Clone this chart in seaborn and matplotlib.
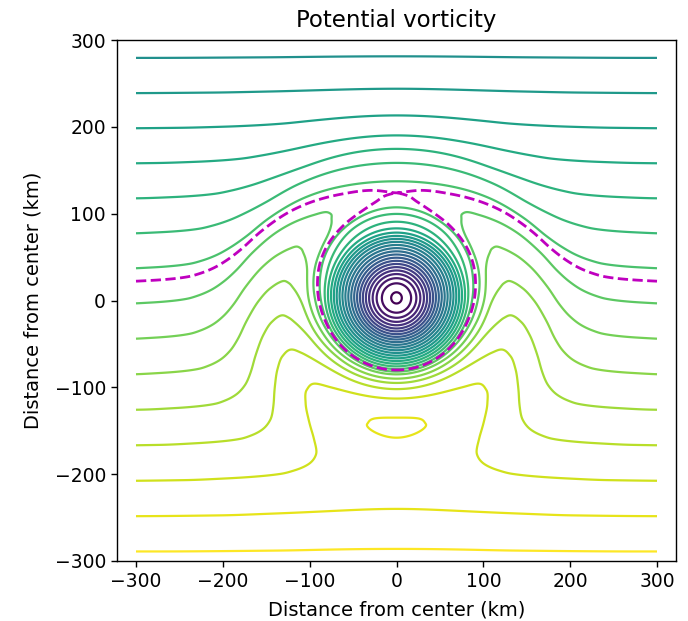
import numpy as np
import matplotlib
matplotlib.use("Agg")
import matplotlib.pyplot as plt
from matplotlib.colors import Normalize
import seaborn as sns

# ---- data ----
# radial PV anomaly of the vortex core (shared by all directions)
core_radius_km = [0, 10, 20, 30, 35, 50, 65, 80]
core_anomaly = [854, 837, 786, 700, 646, 465, 284, 101.5]
# outer profile read along the upper half (north of the vortex)
north_radius_km = [85, 90, 96, 101, 105, 109, 115, 120, 125, 130, 137.3, 148, 158.5,
                   174.6, 188, 200, 213, 228, 243, 262, 281, 320, 400, 700]
north_anomaly = [60, 30, 0, -32, -60, -78, -91, -98, -104, -106, -101.5, -93, -82,
                 -57.6, -35, -23.5, -15, -9, -5.2, -3, -1.8, -0.6, 0, 0]
# outer profile read along the lower half (south of the vortex)
south_radius_km = [85, 90, 95, 102, 108, 113, 120, 125, 135, 146, 158, 170, 185,
                   200, 215, 228, 240, 262, 285, 320, 400, 700]
south_anomaly = [40, 4, -32, -65, -85, -95, -104, -108, -113.5, -106.5, -90.4, -72, -50,
                 -31, -19, -12.5, -8.4, -5, -3, -1, 0, 0]
level_start = -289.0
level_step = 40.6
n_levels = 29
tick_values = [-300, -200, -100, 0, 100, 200, 300]
domain_km = [-300, 300]


def pchip(xk, yk, xq):
    xk = np.asarray(xk, float)
    yk = np.asarray(yk, float)
    h = np.diff(xk)
    d = np.diff(yk) / h
    n = len(xk)
    m = np.zeros(n)
    for i in range(1, n - 1):
        if d[i - 1] * d[i] > 0:
            w1 = 2 * h[i] + h[i - 1]
            w2 = h[i] + 2 * h[i - 1]
            m[i] = (w1 + w2) / (w1 / d[i - 1] + w2 / d[i])
    m[0] = 0.0
    m[-1] = d[-1]
    i = np.clip(np.searchsorted(xk, xq) - 1, 0, n - 2)
    t = (xq - xk[i]) / h[i]
    h00 = 2 * t**3 - 3 * t**2 + 1
    h10 = t**3 - 2 * t**2 + t
    h01 = -2 * t**3 + 3 * t**2
    h11 = t**3 - t**2
    return h00 * yk[i] + h10 * h[i] * m[i] + h01 * yk[i + 1] + h11 * h[i] * m[i + 1]


sns.set_style("ticks")
plt.rcParams["font.family"] = ["DejaVu Sans"]
plt.rcParams.update({"text.color": "black", "axes.labelcolor": "black",
                     "xtick.color": "black", "ytick.color": "black"})

# ---- build the field ----
x = np.linspace(domain_km[0], domain_km[1], 601)
y = np.linspace(domain_km[0], domain_km[1], 601)
X, Y = np.meshgrid(x, y)
R = np.hypot(X, Y)

rf = np.arange(0, 700.0, 0.25)
qn = pchip(core_radius_km + north_radius_km, core_anomaly + north_anomaly, rf)
qs = pchip(core_radius_km + south_radius_km, core_anomaly + south_anomaly, rf)
sin_t = np.where(R > 0, Y / np.maximum(R, 1e-9), 0.0)
w = 0.5 * (1 + sin_t)
Q = Y + w * np.interp(R, rf, qn) + (1 - w) * np.interp(R, rf, qs)

levels = level_start + level_step * np.arange(n_levels)

# separatrix value: saddle above the vortex on x = 0
col = Q[:, 300]
sel = (y > 60) & (y < 250)
sep_level = col[sel].min()

fig = plt.figure(figsize=(6.88, 6.21), dpi=100)
ax = fig.add_axes([117 / 688, (621 - 561) / 621, 559 / 688, 521 / 621])
ax.contour(X, Y, Q, levels=levels, cmap="viridis_r",
           norm=Normalize(vmin=levels[0], vmax=levels[-1]), linewidths=1.6)
ax.contour(X, Y, Q, levels=[sep_level], colors="m", linestyles="--", linewidths=2.0)

half = 559 / 521 * 300
ax.set_xlim(-half, half)
ax.set_ylim(-300, 300)
ax.set_xticks(tick_values)
ax.set_yticks(tick_values)
ax.tick_params(labelsize=13.5, length=4.5, width=1, direction="out", colors="black")
for s in ax.spines.values():
    s.set_linewidth(1.0)
    s.set_color("black")
ax.set_xlabel("Distance from center (km)", fontsize=14, labelpad=6.5, color="black")
ax.set_ylabel("Distance from center (km)", fontsize=14, labelpad=9, color="black")
ax.set_title("Potential vorticity", fontsize=16.5, pad=9, color="black")

fig.savefig("out.png", dpi=100)
